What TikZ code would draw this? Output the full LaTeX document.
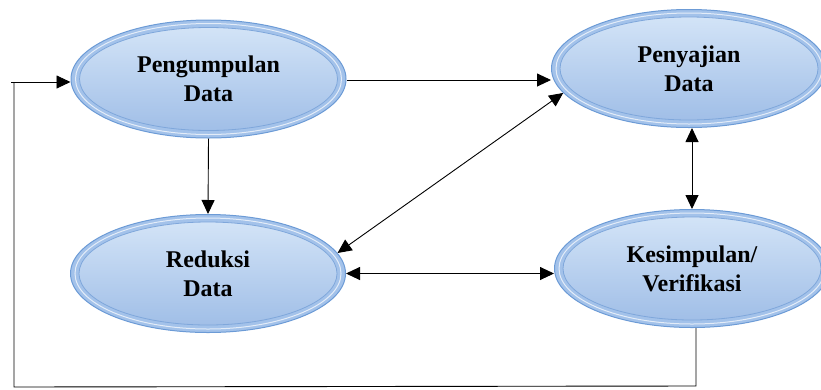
\documentclass[tikz,border=0pt]{standalone}
\usepackage{fontspec}
\setmainfont{Liberation Serif}
\usetikzlibrary{shapes.geometric,arrows.meta}
\definecolor{rim}{HTML}{A3C2EA}
\definecolor{rimedge}{HTML}{6C9BD6}
\definecolor{intop}{HTML}{D6E6F8}
\definecolor{inmid}{HTML}{B3CDEF}
\definecolor{inbot}{HTML}{9DBCE6}
\definecolor{inedge}{HTML}{7FA7DB}
\tikzset{
  proc/.style={ellipse, minimum width=275pt, minimum height=118pt, inner sep=0pt,
    fill=rim, draw=rimedge, line width=1pt,
    path picture={
      \shade[top color=intop, middle color=inmid, bottom color=inbot]
        (path picture bounding box.center) ellipse[x radius=129pt, y radius=51.5pt];
      \draw[inedge, line width=0.8pt]
        (path picture bounding box.center) ellipse[x radius=129pt, y radius=51.5pt];
      \draw[white, opacity=0.7, line width=1pt]
        (path picture bounding box.center) ellipse[x radius=133pt, y radius=55.5pt];
    },
    align=center, font=\fontsize{24}{29}\selectfont\bfseries},
  conn/.style={line width=0.9pt, draw=black},
  tip/.style={-{Triangle[length=14pt,width=13pt]}},
  both/.style={{Triangle[length=14pt,width=13pt]}-{Triangle[length=14pt,width=13pt]}}
}
\begin{document}
\begin{tikzpicture}[x=1pt,y=-1pt]
\useasboundingbox (0,0) rectangle (821,389);
\node[proc] (peng) at (208.5,79) {Pengumpulan\\Data};
\node[proc] (peny) at (689,68.5) {Penyajian\\Data};
\node[proc] (red) at (208,273.5) {Reduksi\\Data};
\node[proc] (kes) at (692,268.5) {Kesimpulan/\\Verifikasi};
\coordinate (c1) at (696,386);
\coordinate (c2) at (14,387);
\coordinate (c3) at (14,82);
\coordinate (c0) at (11,82);
% connectors
\draw[conn,tip] (peng.east |- 0,80) -- (peny.west |- 0,80);
\draw[conn,tip] (peng.south) -- (red.north);
\draw[conn,both] (red.9) -- (peny.191);
\draw[conn,both] (kes.north |- peny.south) -- (kes.north);
\draw[conn,both] (red.east) -- (red.east -| kes.west);
\draw[conn] (kes.south -| c1) -- (c1) -- (c2) -- (c3);
\draw[conn,tip] (c0) -- (peng.west |- c0);
\end{tikzpicture}
\end{document}
